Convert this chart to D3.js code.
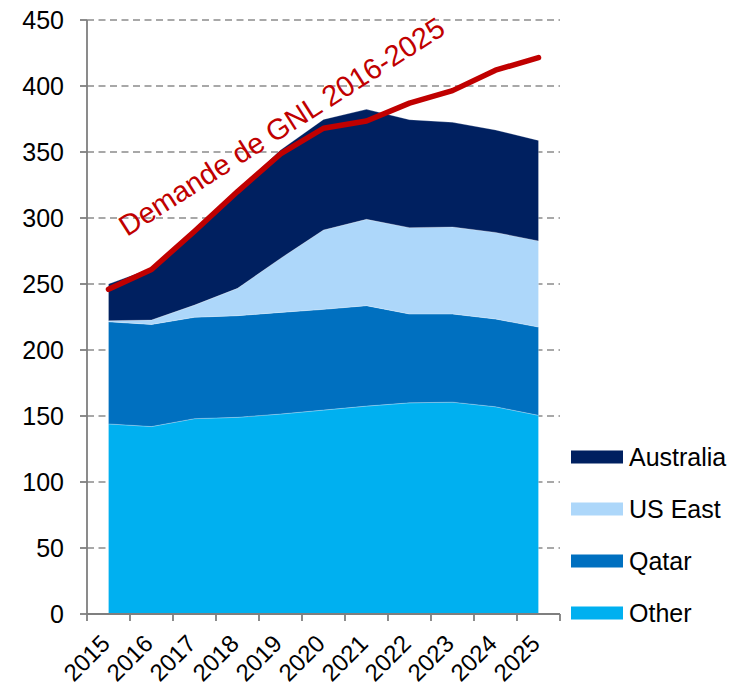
<!DOCTYPE html>
<html>
<head>
<meta charset="utf-8">
<script src="https://cdn.jsdelivr.net/npm/d3@7"></script>
<style>
  html, body { margin: 0; padding: 0; background: #fff; }
  svg { display: block; font-family: "Liberation Sans", Arial, sans-serif; }
</style>
</head>
<body>
<script>
// ---- data ----
const years = ["2015","2016","2017","2018","2019","2020","2021","2022","2023","2024","2025"];
const other     = [144.0, 142.0, 148.0, 149.0, 151.5, 154.5, 157.5, 160.0, 160.5, 157.0, 150.5];
const qatar     = [77.4, 77.4, 76.8, 77.0, 77.0, 76.3, 76.1, 67.3, 66.8, 66.5, 66.9];
const usEast    = [0.8, 3.3, 9.2, 20.7, 40.9, 60.1, 65.4, 65.4, 65.9, 65.6, 65.2];
const australia = [27.8, 39.3, 57.0, 74.3, 82.1, 83.8, 83.3, 81.8, 79.3, 77.6, 76.2];
const demand    = [246, 261, 290, 320, 348.5, 368, 373.5, 387, 396.5, 412, 421.5];
const yTicks    = [0, 50, 100, 150, 200, 250, 300, 350, 400, 450];
const seriesNames = ["Other", "Qatar", "US East", "Australia"];
const annotation = "Demande de GNL 2016-2025";

const colors = { "Other": "#00B0F0", "Qatar": "#0070C0", "US East": "#ADD7FA", "Australia": "#002060" };

const W = 745, H = 689;
const mLeft = 87, mRight = 560, mTop = 20, mBottom = 614;

const table = years.map((yr, i) => ({
  year: yr, "Other": other[i], "Qatar": qatar[i], "US East": usEast[i], "Australia": australia[i]
}));

const svg = d3.select("body").append("svg").attr("width", W).attr("height", H);

const x = d3.scaleBand().domain(years).range([mLeft, mRight]).padding(0);
const xc = d => x(d) + x.bandwidth() / 2;
const y = d3.scaleLinear().domain([0, 450]).range([mBottom, mTop]);

// grid
svg.append("g").selectAll("line").data(yTicks.filter(t => t > 0)).join("line")
  .attr("x1", mLeft).attr("x2", mRight)
  .attr("y1", d => y(d)).attr("y2", d => y(d))
  .attr("stroke", "#8c8c8c").attr("stroke-width", 1.5).attr("stroke-dasharray", "7,4.5");

// areas
const stack = d3.stack().keys(seriesNames)(table);
const area = d3.area()
  .x(d => xc(d.data.year))
  .y0(d => y(d[0])).y1(d => y(d[1]));
svg.append("g").selectAll("path").data(stack).join("path")
  .attr("d", area)
  .attr("fill", d => colors[d.key])
  .attr("stroke", "#ffffff").attr("stroke-opacity", 0.35).attr("stroke-width", 0.7);

// demand line
const line = d3.line().x((d, i) => xc(years[i])).y(d => y(d));
svg.append("path").datum(demand).attr("d", line)
  .attr("fill", "none").attr("stroke", "#C00000").attr("stroke-width", 5.5)
  .attr("stroke-linejoin", "round").attr("stroke-linecap", "round");

// y axis
const axisColor = "#7f7f7f";
svg.append("line").attr("x1", mLeft).attr("x2", mLeft).attr("y1", mTop).attr("y2", mBottom)
  .attr("stroke", axisColor).attr("stroke-width", 1.8);
const yg = svg.append("g");
yg.selectAll("line").data(yTicks).join("line")
  .attr("x1", mLeft - 7).attr("x2", mLeft).attr("y1", d => y(d)).attr("y2", d => y(d))
  .attr("stroke", axisColor).attr("stroke-width", 1.8);
yg.selectAll("text").data(yTicks).join("text")
  .attr("x", 64).attr("y", d => y(d)).attr("dy", "0.35em")
  .attr("text-anchor", "end").attr("font-size", 25).attr("fill", "#000")
  .text(d => d);

// x axis
svg.append("line").attr("x1", mLeft).attr("x2", mRight).attr("y1", mBottom).attr("y2", mBottom)
  .attr("stroke", axisColor).attr("stroke-width", 1.8);
const bounds = years.map(d => x(d)).concat([mRight]);
svg.append("g").selectAll("line").data(bounds).join("line")
  .attr("x1", d => d).attr("x2", d => d).attr("y1", mBottom).attr("y2", mBottom + 7)
  .attr("stroke", axisColor).attr("stroke-width", 1.8);
svg.append("g").selectAll("text").data(years).join("text")
  .attr("transform", d => `translate(${xc(d) + 3},${645}) rotate(-45)`)
  .attr("text-anchor", "end").attr("font-size", 24).attr("fill", "#000")
  .text(d => d);

// annotation
svg.append("text")
  .attr("transform", `translate(127,237) rotate(-32.5)`)
  .attr("font-size", 29).attr("fill", "#C00000")
  .text(annotation);

// legend
const legendOrder = ["Australia", "US East", "Qatar", "Other"];
const lg = svg.append("g").selectAll("g").data(legendOrder).join("g")
  .attr("transform", (d, i) => `translate(571,${457 + i * 52})`);
lg.append("rect").attr("x", 0).attr("y", -6.5).attr("width", 52).attr("height", 13)
  .attr("fill", d => colors[d]);
lg.append("text").attr("x", 58).attr("y", 0).attr("dy", "0.35em")
  .attr("font-size", 25).attr("fill", "#000").text(d => d);
</script>
</body>
</html>
